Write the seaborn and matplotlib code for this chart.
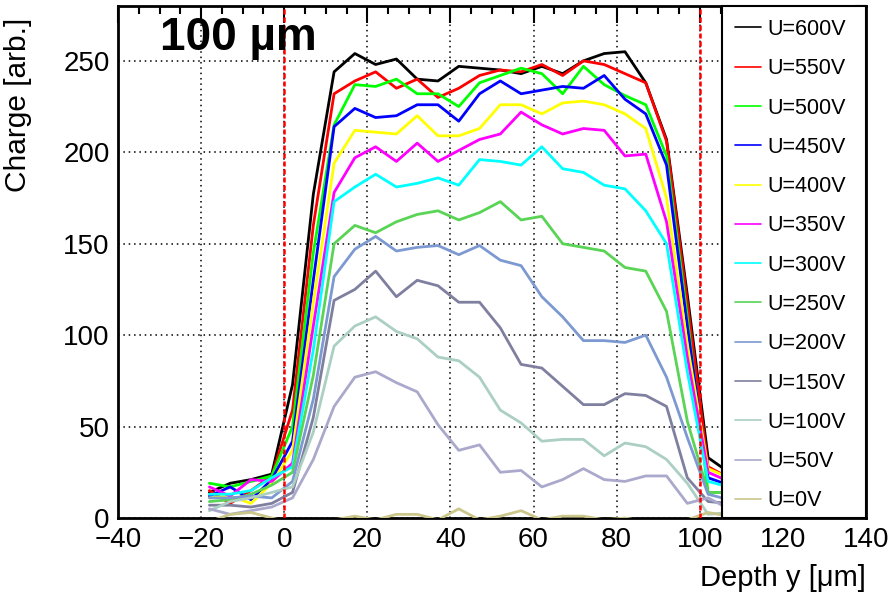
import numpy as np
import pandas as pd
import matplotlib.pyplot as plt
import seaborn as sns
from matplotlib.lines import Line2D
from matplotlib.patches import Rectangle
from matplotlib.ticker import MultipleLocator

sns.set_style("white")
plt.rcParams['font.family'] = ['Liberation Sans', 'DejaVu Sans']
plt.rcParams['text.color'] = 'black'
plt.rcParams['axes.labelcolor'] = 'black'
plt.rcParams['xtick.color'] = 'black'
plt.rcParams['ytick.color'] = 'black'

depth = [-18, -13, -8, -3, 2, 7, 12, 17, 22, 27, 32, 37, 42, 47, 52,
         57, 62, 67, 72, 77, 82, 87, 92, 97, 102, 107]

voltages = ["U=600V", "U=550V", "U=500V", "U=450V", "U=400V", "U=350V", "U=300V",
            "U=250V", "U=200V", "U=150V", "U=100V", "U=50V", "U=0V"]

u600 = [14, 19, 21, 24, 73, 177, 244, 254, 248, 251, 240, 239, 247, 246, 245, 243, 247, 243, 250, 254, 255, 238, 207, 122, 33, 25]
u550 = [15, 8, 15, 23, 59, 160, 232, 239, 244, 235, 240, 230, 235, 242, 245, 244, 248, 242, 250, 248, 243, 238, 206, 118, 28, 22]
u500 = [19, 17, 20, 23, 50, 145, 215, 237, 236, 240, 232, 232, 225, 238, 242, 246, 243, 232, 247, 237, 231, 226, 198, 110, 14, 14]
u450 = [12, 17, 10, 21, 42, 130, 214, 224, 219, 220, 226, 226, 217, 232, 239, 232, 234, 236, 235, 242, 229, 221, 193, 105, 22, 18]
u400 = [11, 12, 8, 19, 37, 118, 194, 212, 211, 210, 220, 209, 209, 213, 226, 226, 221, 227, 228, 226, 221, 213, 175, 95, 27, 22]
u350 = [17, 12, 21, 20, 30, 105, 178, 197, 203, 195, 205, 195, 201, 207, 210, 222, 215, 210, 213, 212, 198, 199, 162, 88, 25, 20]
u300 = [13, 13, 15, 22, 28, 92, 173, 181, 188, 181, 183, 186, 182, 196, 195, 193, 203, 191, 189, 182, 180, 168, 150, 80, 20, 17]
u250 = [9, 10, 13, 18, 25, 78, 150, 160, 156, 162, 166, 168, 163, 167, 173, 163, 165, 150, 148, 146, 137, 135, 113, 53, 14, 14]
u200 = [11, 11, 12, 11, 20, 65, 132, 147, 154, 146, 148, 149, 144, 149, 141, 138, 121, 110, 97, 97, 96, 100, 77, 44, 13, 10]
u150 = [7, 7, 6, 8, 14, 55, 119, 125, 135, 121, 130, 127, 118, 118, 104, 84, 82, 72, 62, 62, 68, 67, 61, 22, 9, 8]
u100 = [4, 9, 11, 14, 17, 47, 94, 105, 110, 102, 98, 88, 86, 77, 59, 52, 42, 43, 43, 34, 41, 39, 32, 19, 2, 3]
u50 = [5, 2, 4, 6, 11, 32, 61, 77, 80, 74, 69, 51, 37, 40, 25, 26, 17, 21, 27, 21, 20, 23, 23, 8, 11, 5]
u0 = [-2, 2, 3, 0, -3, -2, -1, 1, -1, 2, 2, -1, 5, -1, 1, 4, -1, 1, 1, -1, 0, -2, -1, -1, 3, 1]

colors = ["#000000", "#ff0000", "#00ff00", "#0000ff", "#ffff00", "#ff00ff", "#00ffff",
          "#59d454", "#7d99d1", "#7f7f9f", "#abcfc3", "#aaa9cc", "#cbc68a"]

series = [u600, u550, u500, u450, u400, u350, u300, u250, u200, u150, u100, u50, u0]
frames = []
for name, vals in zip(voltages, series):
    frames.append(pd.DataFrame({"depth": depth, "charge": vals, "voltage": name}))
df = pd.concat(frames, ignore_index=True)
palette = dict(zip(voltages, colors))

fig = plt.figure(figsize=(8.95, 5.97), dpi=100)
ax = fig.add_axes([118 / 895, 1 - 518 / 597, 748 / 895, 512 / 597])

ax.grid(True, which="major", color="black", linestyle=(0, (1, 2.5)), linewidth=1.1, zorder=0)

sns.lineplot(data=df, x="depth", y="charge", hue="voltage", hue_order=voltages,
             palette=palette, sort=False, estimator=None, linewidth=2.0,
             legend=False, ax=ax, zorder=3)

for xv in (0, 100):
    ax.axvline(xv, color="#ff0000", linestyle=(0, (2, 1.2)), linewidth=1.8, zorder=4)

ax.set_xlim(-40, 140)
ax.set_ylim(0, 280)
ax.xaxis.set_major_locator(MultipleLocator(20))
ax.xaxis.set_minor_locator(MultipleLocator(5))
ax.yaxis.set_major_locator(MultipleLocator(50))
ax.yaxis.set_minor_locator(MultipleLocator(10))

ax.tick_params(axis="both", which="both", direction="in", top=True, right=True,
               width=1.5, labelsize=20, colors="black")
ax.tick_params(axis="x", which="major", length=12, pad=6.5)
ax.tick_params(axis="x", which="minor", length=6)
ax.tick_params(axis="y", which="major", length=16, pad=6)
ax.tick_params(axis="y", which="minor", length=8)
for sp in ax.spines.values():
    sp.set_linewidth(2)
    sp.set_color("black")

ax.set_xlabel("")
fig.text(866 / 895, 1 - 578 / 597, "Depth y [μm]", fontsize=21, ha="right", va="center")
ax.set_ylabel("Charge [arb.]", fontsize=21.5, loc="top")
ax.yaxis.set_label_coords(-0.115, 0.977)

ax.text(0.056, 0.914, "100 µm", transform=ax.transAxes, fontsize=33,
        fontweight="bold", va="baseline", ha="left", zorder=6)

# legend box covers the right part of the plot, full height
box = Rectangle((604 / 748, 0), 144 / 748, 1.0, transform=ax.transAxes,
                facecolor="white", edgecolor="black", linewidth=1.5, zorder=9,
                clip_on=False)
ax.add_patch(box)

handles = [Line2D([], [], color=c, linewidth=1.2) for c in colors]
leg = ax.legend(handles, voltages, loc="upper left",
                bbox_to_anchor=(604 / 748, 1.0),
                borderaxespad=0, fontsize=15.5, frameon=False,
                borderpad=0.6, labelspacing=0.85,
                handlelength=1.2, handletextpad=0.3)
leg.set_zorder(10)

fig.savefig("out.png", dpi=100)
